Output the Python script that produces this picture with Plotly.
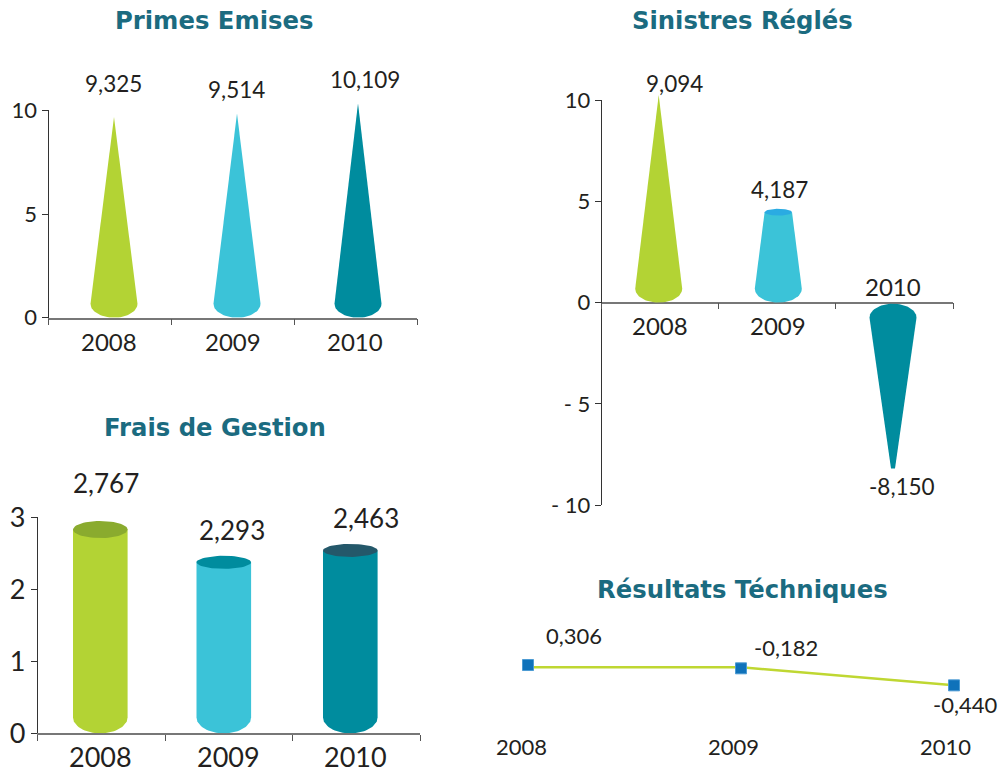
import numpy as np
import plotly.graph_objects as go

W, H = 999, 774

# ---- data ----
years = ["2008", "2009", "2010"]
primes_values = [9.325, 9.514, 10.109]
primes_drawn = [9.68, 9.85, 10.34]
sinistres_values = [9.094, 4.187, -8.150]
sinistres_drawn = [10.26, 4.47, -8.20]
frais_values = [2.767, 2.293, 2.463]
frais_drawn = [2.83, 2.375, 2.54]
resultats_values = [0.306, -0.182, -0.440]
resultats_markers = [-0.132, -0.182, -0.44]
resultats_line = [-0.167, -0.167, -0.44]
titles = ["Primes Emises", "Sinistres Réglés", "Frais de Gestion", "Résultats Téchniques"]

# ---- styles ----
COL = ["#B3D334", "#3BC3D8", "#008C9E"]
TOPS_FRAIS = ["#8AAB2E", "#008C9E", "#24586A"]
TOP_SIN = "#2AABE2"
TITLE_COL = "#1B6B80"
TXT = "#231F20"
FONT = "Lato"
EXT = 20  # head-room (px) above the visible y axis so tall marks are not clipped
MARK = {1: 5, 2: 6, 3: 7}


def fmt(v):
    return f"{v:.3f}".replace(".", ",")


def px_x(x):
    return x / W


def px_y(y):
    return 1 - y / H


fig = go.Figure()


def add_axes(n, left, right, top, bottom, yr, tickvals, ticktext, zero_px=None, size=22):
    sfx = "" if n == 1 else str(n)
    xa = dict(domain=[px_x(left), px_x(right)], range=[0, 3], tickvals=[0, 1, 2, 3], ticks="outside",
              ticklen=6, tickcolor="#555", showticklabels=False, showgrid=False, zeroline=False,
              showline=True, linecolor="#777", linewidth=1.5, anchor="y" + sfx, automargin=False)
    if zero_px is not None:
        xa.update(anchor="free", position=px_y(zero_px))
    ya = dict(domain=[px_y(bottom), px_y(top)], range=yr, tickvals=tickvals, ticktext=ticktext,
              ticks="outside", ticklen=6, tickcolor="#333", showgrid=False, zeroline=False,
              showline=True, linecolor="#333", linewidth=1, anchor="x" + sfx, automargin=False,
              tickfont=dict(family=FONT, size=size, color=TXT))
    fig.layout["xaxis" + sfx] = xa
    fig.layout["yaxis" + sfx] = ya
    # hidden twin y axis, same scale, taller domain: carries the marks
    per_px = (yr[1] - yr[0]) / (bottom - top)
    fig.layout["yaxis" + str(MARK[n])] = dict(domain=[px_y(bottom), px_y(top - EXT)],
                                              range=[yr[0], yr[1] + EXT * per_px], visible=False,
                                              anchor="x" + sfx, automargin=False)
    # keeps the visible pair of axes alive
    fig.add_trace(go.Scatter(x=[0], y=[yr[0]], mode="markers", marker=dict(opacity=0), xaxis="x" + sfx,
                             yaxis="y" + sfx, showlegend=False, hoverinfo="skip"))


def solid(n, cx, hw_base, top_hw, value, ry, base, color, left, right, top, bottom, yr):
    """Cone / frustum / cylinder outline: base ellipse at axis, narrowing to value."""
    sfx = "" if n == 1 else str(n)
    xs_per_px = 3 / (right - left)
    ys_per_px = (yr[1] - yr[0]) / (bottom - top)
    sign = 1 if value >= 0 else -1
    t = np.linspace(np.pi, 2 * np.pi, 40)
    centre = base + sign * ry * ys_per_px
    ax = cx + hw_base * np.cos(t)
    ay = centre + sign * ry * ys_per_px * np.sin(t)
    px = np.concatenate([ax, [cx + top_hw, cx - top_hw, ax[0]]])
    py = np.concatenate([ay, [value, value, ay[0]]])
    fig.add_trace(go.Scatter(x=(px - left) * xs_per_px, y=py, mode="lines", fill="toself", fillcolor=color,
                             line=dict(width=0, color=color), xaxis="x" + sfx, yaxis="y" + str(MARK[n]),
                             cliponaxis=False, showlegend=False, hoverinfo="skip"))


def cap(n, cx, hw, ry, value, color, left, right, top, bottom, yr):
    sfx = "" if n == 1 else str(n)
    xs_per_px = 3 / (right - left)
    ys_per_px = (yr[1] - yr[0]) / (bottom - top)
    t = np.linspace(0, 2 * np.pi, 60)
    fig.add_trace(go.Scatter(x=(cx + hw * np.cos(t) - left) * xs_per_px,
                             y=value + ry * ys_per_px * np.sin(t), mode="lines", fill="toself",
                             fillcolor=color, line=dict(width=0, color=color), xaxis="x" + sfx,
                             yaxis="y" + str(MARK[n]), cliponaxis=False, showlegend=False, hoverinfo="skip"))


def label(text, x, y, size=22, color=TXT, bold=False, family=FONT):
    fig.add_annotation(text=f"<b>{text}</b>" if bold else text, x=px_x(x), y=px_y(y), xref="paper", yref="paper",
                       showarrow=False, xanchor="center", yanchor="middle",
                       font=dict(family=family, size=size, color=color))


# ---- chart 1 : Primes Emises ----
g1 = dict(left=48.5, right=417, top=110.3, bottom=317.7, yr=[0, 10])
add_axes(1, g1["left"], g1["right"], g1["top"], g1["bottom"], g1["yr"], [0, 5, 10], ["0", "5", "10"])
for cx, v, c in zip([114, 237, 358], primes_drawn, COL):
    solid(1, cx, 23.5, 0, v, 14, 0, c, **g1)

# ---- chart 2 : Sinistres Réglés ----
g2 = dict(left=601.7, right=953, top=100.3, bottom=505, yr=[-10, 10])
add_axes(2, g2["left"], g2["right"], g2["top"], g2["bottom"], g2["yr"], [-10, -5, 0, 5, 10],
         ["- 10", "- 5", "0", "5", "10"], zero_px=302.7)
for cx, v, c, th, base in zip([658.7, 778.3, 893], sinistres_drawn, COL, [0, 13.7, 2], [0, 0, -0.05]):
    solid(2, cx, 23.5, th, v, 14, base, c, **g2)
cap(2, 778.3, 13.7, 3.4, sinistres_drawn[1], TOP_SIN, **g2)

# ---- chart 3 : Frais de Gestion ----
g3 = dict(left=37.7, right=420.3, top=517.3, bottom=733.3, yr=[0, 3])
add_axes(3, g3["left"], g3["right"], g3["top"], g3["bottom"], g3["yr"], [0, 1, 2, 3], ["0", "1", "2", "3"], size=27)
for cx, v, c, tc, ry in zip([100.3, 223.8, 350.3], frais_drawn, COL, TOPS_FRAIS, [8.5, 6.5, 6.5]):
    solid(3, cx, 27.3, 27.3, v, 16, 0, c, **g3)
    cap(3, cx, 27.3, ry, v, tc, **g3)

# ---- chart 4 : Résultats Téchniques ----
fig.layout["xaxis4"] = dict(domain=[px_x(528), px_x(954)], range=[0, 2], visible=False, anchor="y4", automargin=False)
fig.layout["yaxis4"] = dict(domain=[px_y(700), px_y(640)], range=[-0.662, 0.247], visible=False, anchor="x4", automargin=False)
fig.add_trace(go.Scatter(x=[0, 1, 2], y=resultats_line, mode="lines", line=dict(color="#BFD732", width=2.5),
                         xaxis="x4", yaxis="y4", cliponaxis=False, showlegend=False, hoverinfo="skip"))
fig.add_trace(go.Scatter(x=[0, 1, 2], y=resultats_markers, mode="markers",
                         marker=dict(symbol="square", size=11, color="#0F72BA", line=dict(width=1, color="#4C9BD3")),
                         xaxis="x4", yaxis="y4", cliponaxis=False, showlegend=False, hoverinfo="skip"))

# ---- texts ----
TITLE_POS = [(214, 20), (742, 20), (215, 427), (742, 589)]
for t, (x, y) in zip(titles, TITLE_POS):
    label(t, x, y, size=24.3, color=TITLE_COL, bold=True, family="DejaVu Sans")

for v, (x, y) in zip(primes_values, [(113, 83), (236.5, 90), (365, 79)]):
    label(fmt(v), x, y, size=22.5)
for y_, (x, y) in zip(years, [(108.5, 341), (233, 341), (355, 341)]):
    label(y_, x, y, size=24)

for v, (x, y) in zip(sinistres_values, [(674, 83), (779.5, 189), (902, 486)]):
    label(fmt(v), x, y, size=22.5)
for y_, (x, y) in zip(years, [(660, 326), (778, 326), (893, 286)]):
    label(y_, x, y, size=24)

for v, (x, y) in zip(frais_values, [(105.5, 483), (232, 530), (366, 518)]):
    label(fmt(v), x, y, size=26)
for y_, (x, y) in zip(years, [(100, 756), (228, 756), (355, 756)]):
    label(y_, x, y, size=27)

for v, (x, y) in zip(resultats_values, [(574, 635), (786, 647), (965, 704)]):
    label(fmt(v), x, y, size=22)
for y_, (x, y) in zip(years, [(521, 746), (733, 746), (945, 746)]):
    label(y_, x, y, size=22)

fig.update_layout(width=W, height=H, margin=dict(l=0, r=0, t=0, b=0), autosize=False,
                  paper_bgcolor="white", plot_bgcolor="rgba(0,0,0,0)", showlegend=False)

fig.write_html("out.html", config=dict(displayModeBar=False),
               post_script="document.body.style.margin='0';document.body.style.overflow='hidden';")
